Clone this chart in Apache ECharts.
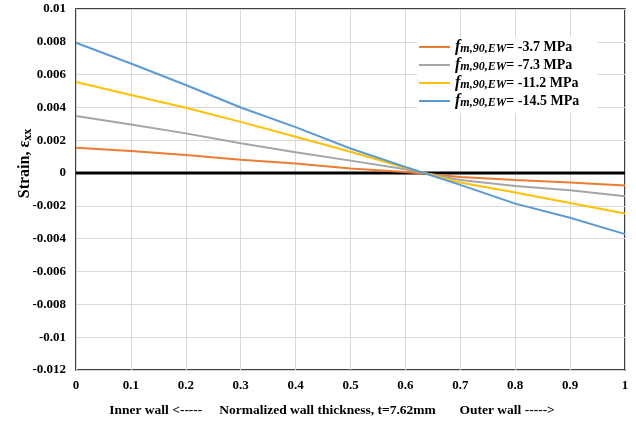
<!DOCTYPE html>
<html>
<head>
<meta charset="utf-8">
<script src="https://cdn.jsdelivr.net/npm/echarts@6/dist/echarts.min.js"></script>
<style>html,body{margin:0;padding:0;background:#fff;}#c{width:636px;height:421px;}</style>
</head>
<body>
<div id="c"></div>
<script>
const tValues = [0, 0.1, 0.2, 0.3, 0.4, 0.5, 0.6, 0.7, 0.8, 0.9, 1];
const strain37 = [0.00155, 0.00134, 0.0011, 0.00082, 0.00058, 0.00028, 0.00007, -0.00024, -0.00042, -0.00058, -0.00076];
const strain73 = [0.00348, 0.00296, 0.00242, 0.00182, 0.00127, 0.00076, 0.00024, -0.00042, -0.00078, -0.00105, -0.00141];
const strain112 = [0.00555, 0.00476, 0.00398, 0.00312, 0.00222, 0.0013, 0.00033, -0.00058, -0.00118, -0.00182, -0.00246];
const strain145 = [0.00794, 0.00668, 0.00537, 0.004, 0.0028, 0.0015, 0.00037, -0.00072, -0.00186, -0.00272, -0.00372];
const seriesNames = ['-3.7 MPa', '-7.3 MPa', '-11.2 MPa', '-14.5 MPa'];
const seriesValues = [strain37, strain73, strain112, strain145];
const seriesColors = ['#ED7D31', '#A5A5A5', '#FFC000', '#5B9BD5'];
const xAxisTitle = 'Inner wall <-----     Normalized wall thickness, t=7.62mm       Outer wall ----->';

const FONT = '"Liberation Serif", "Times New Roman", serif';
const chart = echarts.init(document.getElementById('c'), null, {renderer: 'canvas'});

const series = seriesNames.map((n, i) => ({
  name: n,
  type: 'line',
  data: tValues.map((t, j) => [t, seriesValues[i][j]]),
  showSymbol: false,
  symbol: 'none',
  lineStyle: {color: seriesColors[i], width: 2},
  itemStyle: {color: seriesColors[i]},
  z: 3
}));
series.push({
  name: 'zero',
  type: 'line',
  data: [[0, 0], [1, 0]],
  showSymbol: false,
  symbol: 'none',
  lineStyle: {color: '#000', width: 3},
  z: 2,
  silent: true
});

chart.setOption({
  backgroundColor: '#fff',
  animation: false,
  grid: {left: 76, right: 11, top: 9, bottom: 51, show: true, borderColor: '#000', borderWidth: 1.5,
    containLabel: false, outerBoundsMode: 'none'},
  legend: {
    data: seriesNames,
    orient: 'vertical',
    left: 417,
    top: 37,
    itemWidth: 31,
    itemHeight: 2,
    icon: 'rect',
    itemGap: 2,
    padding: [2, 18, 4, 2],
    backgroundColor: '#fff',
    formatter: function (name) { return '{f|f}{s|m,90,EW}{v|= ' + name + '}'; },
    textStyle: {
      fontFamily: FONT,
      color: '#000',
      rich: {
        f: {fontFamily: FONT, fontStyle: 'italic', fontWeight: 'bold', fontSize: 16, color: '#000', lineHeight: 15},
        s: {fontFamily: FONT, fontStyle: 'italic', fontWeight: 'bold', fontSize: 12, color: '#000', padding: [4, 0, 0, 0], lineHeight: 12},
        v: {fontFamily: FONT, fontWeight: 'bold', fontSize: 14, color: '#000', lineHeight: 15}
      }
    }
  },
  xAxis: {
    type: 'value',
    min: 0, max: 1, interval: 0.1,
    name: xAxisTitle,
    nameLocation: 'middle',
    nameGap: 34,
    nameMoveOverlap: false,
    nameTextStyle: {fontFamily: FONT, fontWeight: 'bold', fontSize: 13.5, color: '#000', padding: [0, 37, 0, 0]},
    axisLine: {show: false},
    axisTick: {show: false},
    axisLabel: {fontFamily: FONT, fontWeight: 'bold', fontSize: 13, color: '#000', margin: 9,
      formatter: v => String(+v.toFixed(1))},
    splitLine: {show: true, lineStyle: {color: '#D9D9D9', width: 1}}
  },
  yAxis: {
    type: 'value',
    min: -0.012, max: 0.01, interval: 0.002,
    name: '{a|Strain, ε}{b|xx}',
    nameLocation: 'middle',
    nameGap: 42,
    nameMoveOverlap: false,
    nameRotate: 90,
    nameTextStyle: {
      fontFamily: FONT, fontWeight: 'bold', fontSize: 16, color: '#000',
      padding: [0, 0, 0, 52],
      rich: {
        a: {fontFamily: FONT, fontWeight: 'bold', fontSize: 16, color: '#000', lineHeight: 18},
        b: {fontFamily: FONT, fontWeight: 'bold', fontSize: 12, color: '#000', padding: [5, 0, 0, 0], lineHeight: 18}
      }
    },
    axisLine: {show: false},
    axisTick: {show: false},
    axisLabel: {fontFamily: FONT, fontWeight: 'bold', fontSize: 13, color: '#000', margin: 10,
      formatter: v => String(+v.toFixed(3))},
    splitLine: {show: true, lineStyle: {color: '#D9D9D9', width: 1}}
  },
  series: series
});
</script>
</body>
</html>
